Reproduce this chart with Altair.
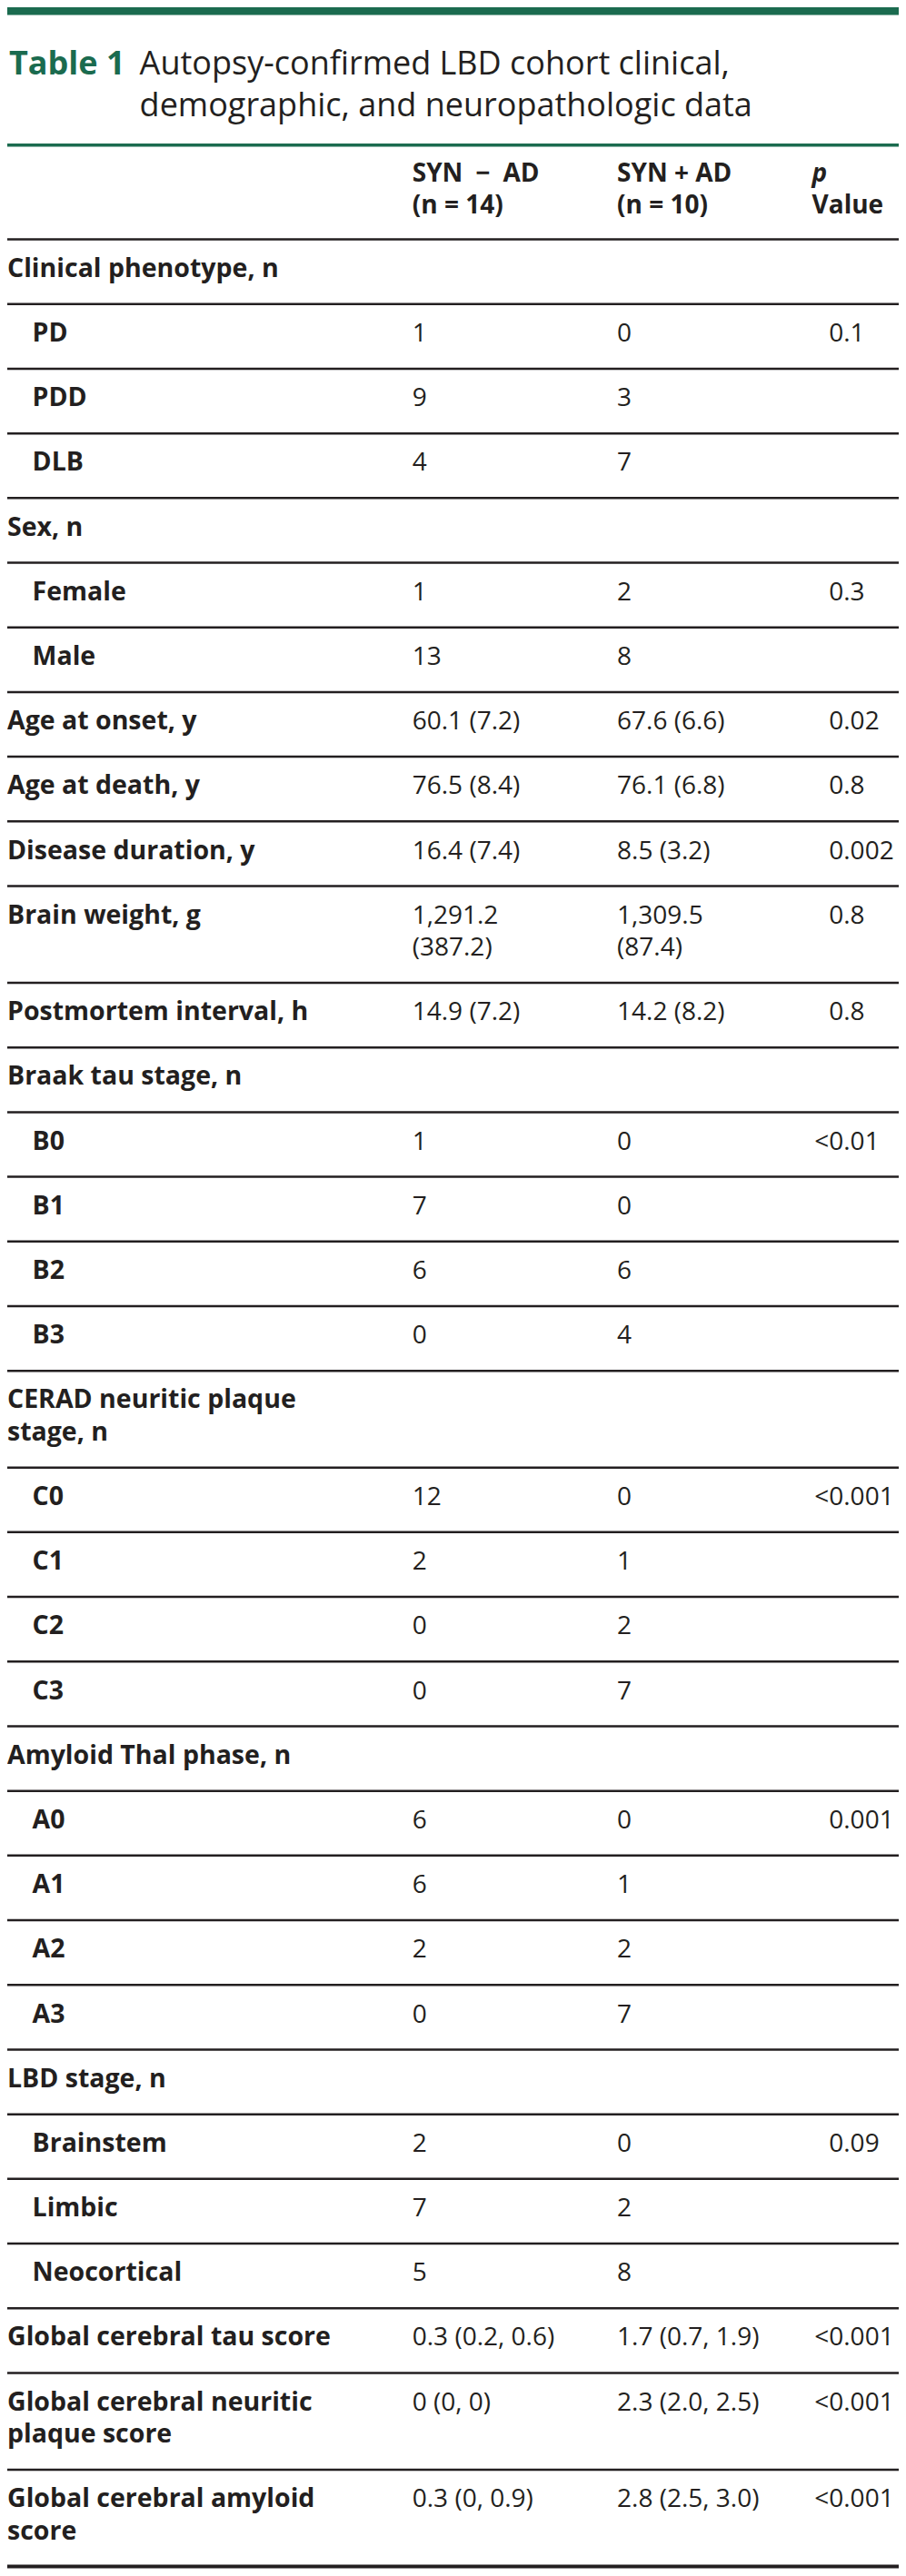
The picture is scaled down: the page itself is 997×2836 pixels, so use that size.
import altair as alt
import pandas as pd

# ------------------------------------------------------------------ data
title_tag = "Table 1"
title_text = "Autopsy-confirmed LBD cohort clinical,\ndemographic, and neuropathologic data"
col_headers = ["SYN\u2002\u2212\u2002AD\n(n = 14)", "SYN + AD\n(n = 10)"]
p_header_italic = "p"
p_header_rest = "Value"

row_labels = [
    "Clinical phenotype, n", "PD", "PDD", "DLB",
    "Sex, n", "Female", "Male",
    "Age at onset, y", "Age at death, y", "Disease duration, y",
    "Brain weight, g", "Postmortem interval, h",
    "Braak tau stage, n", "B0", "B1", "B2", "B3",
    "CERAD neuritic plaque\nstage, n", "C0", "C1", "C2", "C3",
    "Amyloid Thal phase, n", "A0", "A1", "A2", "A3",
    "LBD stage, n", "Brainstem", "Limbic", "Neocortical",
    "Global cerebral tau score",
    "Global cerebral neuritic\nplaque score",
    "Global cerebral amyloid\nscore",
]
row_indent = [0, 1, 1, 1,
              0, 1, 1,
              0, 0, 0,
              0, 0,
              0, 1, 1, 1, 1,
              0, 1, 1, 1, 1,
              0, 1, 1, 1, 1,
              0, 1, 1, 1,
              0, 0, 0]
syn_minus_ad = ["", "1", "9", "4",
                "", "1", "13",
                "60.1 (7.2)", "76.5 (8.4)", "16.4 (7.4)",
                "1,291.2\n(387.2)", "14.9 (7.2)",
                "", "1", "7", "6", "0",
                "", "12", "2", "0", "0",
                "", "6", "6", "2", "0",
                "", "2", "7", "5",
                "0.3 (0.2, 0.6)", "0 (0, 0)", "0.3 (0, 0.9)"]
syn_plus_ad = ["", "0", "3", "7",
               "", "2", "8",
               "67.6 (6.6)", "76.1 (6.8)", "8.5 (3.2)",
               "1,309.5\n(87.4)", "14.2 (8.2)",
               "", "0", "0", "6", "4",
               "", "0", "1", "2", "7",
               "", "0", "1", "2", "7",
               "", "0", "2", "8",
               "1.7 (0.7, 1.9)", "2.3 (2.0, 2.5)", "2.8 (2.5, 3.0)"]
p_values = ["", "0.1", "", "",
            "", "0.3", "",
            "0.02", "0.8", "0.002",
            "0.8", "0.8",
            "", "<0.01", "", "", "",
            "", "<0.001", "", "", "",
            "", "0.001", "", "", "",
            "", "0.09", "", "",
            "<0.001", "<0.001", "<0.001"]

assert len(row_labels) == len(row_indent) == len(syn_minus_ad) == len(syn_plus_ad) == len(p_values)

# ------------------------------------------------------------------ layout (reference pixel space)
REF_W, REF_H = 997, 2836
W, H = 981, 2820
GREEN = "#1b6b4f"
INK = "#231f20"
FONT = "Open Sans"

HEADER_BOTTOM = 257
ROW_H = 71.6
LINE_H = 35.5
BASE_OFF = 41.5
X_LABEL, X_INDENT, X_C1, X_C2, X_P, X_PH = 0, 28, 453, 682, 919, 900

def nl(s):
    return s.count("\n") + 1

nlines = [max(nl(a), nl(b), nl(c), nl(d))
          for a, b, c, d in zip(row_labels, syn_minus_ad, syn_plus_ad, p_values)]
tops = []
y = HEADER_BOTTOM
for n in nlines:
    tops.append(y)
    y += ROW_H + LINE_H * (n - 1)
bottom = y

label_rows, value_rows, p_main_rows, p_pre_rows = [], [], [], []
for i, top in enumerate(tops):
    base = top + BASE_OFF
    label_rows.append({"x": X_INDENT if row_indent[i] else X_LABEL, "y": base, "text": row_labels[i]})
    if syn_minus_ad[i]:
        value_rows.append({"x": X_C1, "y": base, "text": syn_minus_ad[i]})
    if syn_plus_ad[i]:
        value_rows.append({"x": X_C2, "y": base, "text": syn_plus_ad[i]})
    if p_values[i]:
        pre = "<" if p_values[i].startswith("<") else ""
        p_main_rows.append({"x": X_P, "y": base, "text": p_values[i].lstrip("<")})
        if pre:
            p_pre_rows.append({"x": X_P, "y": base, "text": pre})

rule_rows = [{"y": HEADER_BOTTOM, "x": 0, "x2": REF_W, "w": 2.5}]
for i, top in enumerate(tops):
    nxt = tops[i + 1] if i + 1 < len(tops) else bottom
    rule_rows.append({"y": nxt, "x": 0, "x2": REF_W, "w": 4 if i + 1 == len(tops) else 2.5})

xs = alt.Scale(domain=[0, REF_W], range=[0, W])
ys = alt.Scale(domain=[0, REF_H], range=[0, H])

def X(f="x"):
    return alt.X(f"{f}:Q", scale=xs, axis=None)

def Y(f="y"):
    return alt.Y(f"{f}:Q", scale=ys, axis=None)

def text_layer(rows, size, weight="normal", color=INK, align="left", style="normal", lh=LINE_H):
    return alt.Chart(pd.DataFrame(rows)).mark_text(
        align=align, baseline="alphabetic", font=FONT, fontSize=size,
        fontWeight=weight, fontStyle=style, color=color, lineBreak="\n", lineHeight=lh,
    ).encode(x=X(), y=Y(), text="text:N")

# decorations
top_bar = alt.Chart(pd.DataFrame([{"x": 0, "x2": REF_W, "y": 0, "y2": 8.5}])).mark_rect(
    color=GREEN).encode(x=X(), x2="x2:Q", y=Y(), y2="y2:Q")
title_rule = alt.Chart(pd.DataFrame([{"x": 0, "x2": REF_W, "y": 152.5}])).mark_rule(
    color=GREEN, strokeWidth=3.5).encode(x=X(), x2="x2:Q", y=Y())
rules = alt.Chart(pd.DataFrame(rule_rows)).mark_rule(color=INK).encode(
    x=X(), x2="x2:Q", y=Y(), strokeWidth=alt.StrokeWidth("w:Q", scale=None, legend=None))

title_tag_layer = text_layer([{"x": 2, "y": 74, "text": title_tag}], 36, "bold", GREEN)
title_layer = text_layer([{"x": 148, "y": 74, "text": title_text}], 36, "normal", INK, lh=46.5)

header_layer = text_layer(
    [{"x": X_C1, "y": 193, "text": col_headers[0]},
     {"x": X_C2, "y": 193, "text": col_headers[1]},
     {"x": X_PH, "y": 228, "text": p_header_rest}], 28, "bold")
p_italic_layer = text_layer([{"x": X_PH, "y": 193, "text": p_header_italic}], 28, "bold", style="italic")

labels = text_layer(label_rows, 28.5, "bold")
values = text_layer(value_rows, 28, "normal")
p_main = text_layer(p_main_rows, 28, "normal")
p_pre = text_layer(p_pre_rows, 28, "normal", align="right")

chart = alt.layer(
    top_bar, title_rule, rules,
    title_tag_layer, title_layer, header_layer, p_italic_layer,
    labels, values, p_main, p_pre,
).properties(width=W, height=H, autosize=alt.AutoSizeParams(type="none"), padding=0
).configure_view(stroke=None)

chart.save("out.html", embed_options={"renderer": "svg", "actions": False})
